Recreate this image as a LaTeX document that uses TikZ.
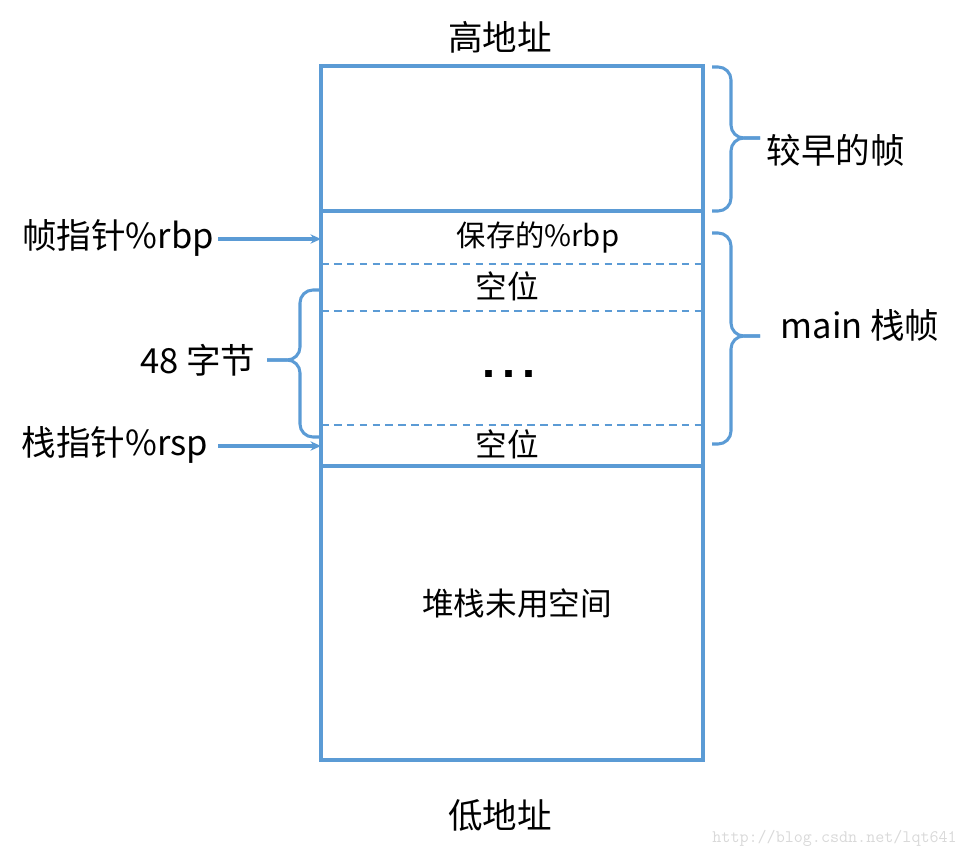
\documentclass[tikz,border=0pt]{standalone}
\usepackage{fontspec}
\setmainfont{Noto Sans CJK SC}
\newfontfamily\dotfont{Liberation Sans}
\usetikzlibrary{arrows.meta}
\definecolor{stackblue}{RGB}{91,155,213}
\tikzset{
  frameline/.style={stackblue, line width=2.6pt},
  slotline/.style={stackblue, line width=1.2pt, dash pattern=on 6.5pt off 4.5pt},
  pointer/.style={stackblue, line width=2.6pt, -{Stealth[length=9pt,width=8pt]}},
  bracket/.style={stackblue, line width=2.6pt, rounded corners=11pt},
  bigtext/.style={font=\fontsize{29.5}{32}\selectfont, inner sep=2pt},
  slottext/.style={font=\fontsize{27}{29}\selectfont, inner sep=2pt}
}
\begin{document}
\begin{tikzpicture}[x=0.03cm, y=-0.03cm]
  \useasboundingbox (0,0) rectangle (968,858);
  % the stack column
  \draw[frameline] (321,66) rectangle (703,760);
  \draw[frameline] (321,211) -- (703,211);
  \draw[frameline] (321,466) -- (703,466);
  \foreach \y in {264,311,425}
    \draw[slotline] (321,\y) -- (703,\y);
  \node[bigtext] (high) at (500,37) {高地址};
  \node[bigtext] (low) at (500,815) {低地址};
  \node[font=\fontsize{25}{27}\selectfont] (savedrbp) at (538,237) {保存的\%rbp};
  \node[slottext] (slotA) at (507,286) {空位};
  \node[font=\dotfont\bfseries\fontsize{40}{42}\selectfont, anchor=base] (dots) at (509,377) {.\hspace{6pt}.\hspace{6pt}.};
  \node[slottext] (slotB) at (507,444) {空位};
  \node[slottext] (unused) at (517,603) {堆栈未用空间};
  % pointers
  \coordinate (fpat) at (321,239);
  \coordinate (spat) at (321,446);
  \node[bigtext] (fp) at (118,238) {帧指针\%rbp};
  \node[bigtext] (sp) at (115,445) {栈指针\%rsp};
  \draw[pointer] (218,239) -- (fpat);
  \draw[pointer] (218,446) -- (spat);
  % braces
  \draw[bracket] (712,67) -- (731,67) -- (731,138) -- (760,138);
  \draw[bracket] (760,138) -- (731,138) -- (731,211) -- (712,211);
  \node[bigtext, anchor=west] (older) at (764,150) {较早的帧};
  \draw[bracket] (712,233) -- (731,233) -- (731,336) -- (760,336);
  \draw[bracket] (760,336) -- (731,336) -- (731,444) -- (712,444);
  \node[bigtext, anchor=west] (mainframe) at (778,325) {main 栈帧};
  \draw[bracket] (321,290) -- (300,290) -- (300,360) -- (267,360);
  \draw[bracket] (267,360) -- (300,360) -- (300,437) -- (321,437);
  \node[bigtext, anchor=east] (bytes) at (258,360) {48 字节};
  \node[font=\ttfamily\fontsize{15}{17}\selectfont, text=gray!30, anchor=east, inner sep=0pt] (mark) at (957,838) {http://blog.csdn.net/lqt641};
\end{tikzpicture}
\end{document}
